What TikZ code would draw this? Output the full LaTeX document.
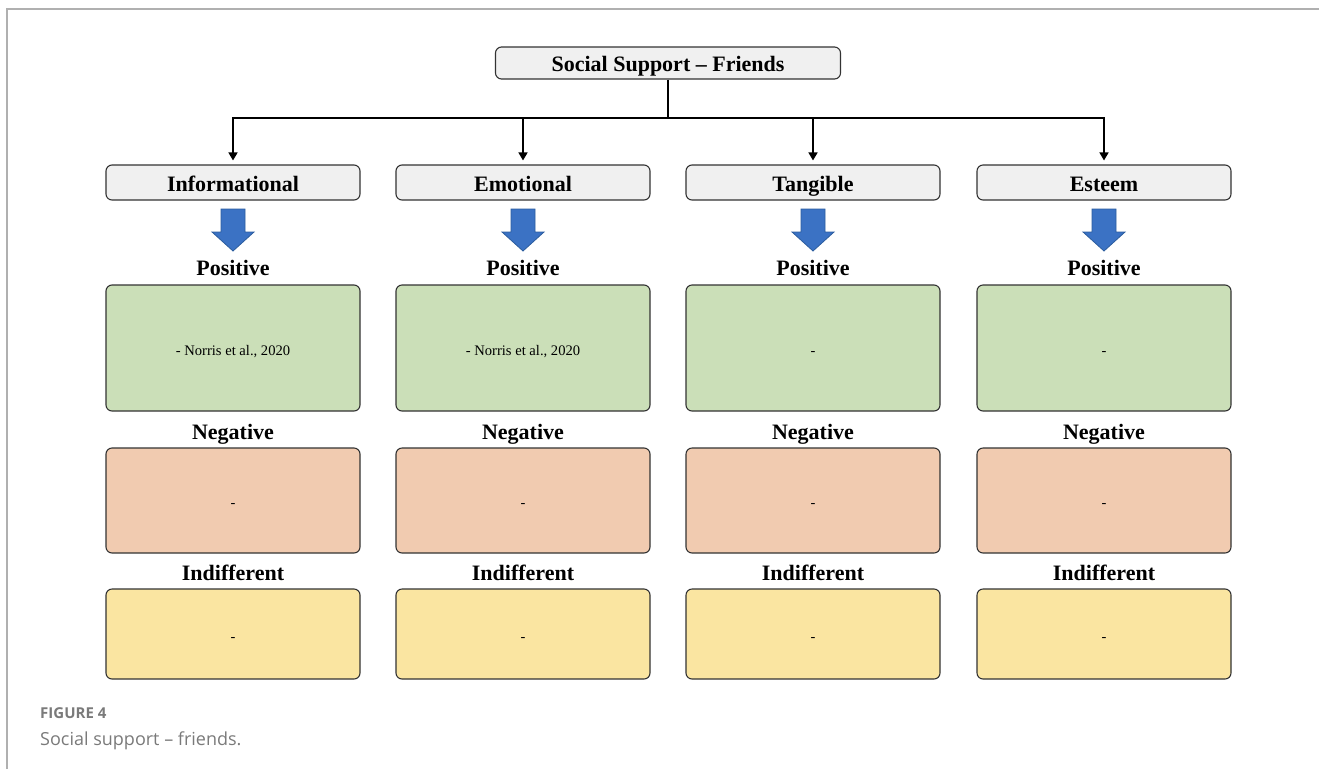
\documentclass[tikz,border=0pt]{standalone}
\usepackage{fontspec}
\setmainfont{Liberation Serif}
\newfontfamily\capfont{Open Sans}
\usetikzlibrary{arrows.meta}
\definecolor{linec}{HTML}{333333}
\definecolor{framec}{HTML}{B0B0B0}
\definecolor{grayf}{HTML}{F0F0F0}
\definecolor{greenf}{HTML}{CBDFB8}
\definecolor{orangef}{HTML}{F1CBB0}
\definecolor{yellowf}{HTML}{FAE5A1}
\definecolor{bluef}{HTML}{3B72C4}
\definecolor{blued}{HTML}{2B5C9E}
\definecolor{capc}{HTML}{6A6A6A}
\definecolor{capb}{HTML}{7A7A7A}
\begin{document}
\begin{tikzpicture}[x=1pt,y=-1pt,
  box/.style={draw=linec, line width=1.1pt, rounded corners=6pt, inner sep=0pt, minimum width=254pt, align=center},
  headbox/.style={box, fill=grayf, font=\fontsize{22}{24}\selectfont\bfseries, text height=20pt, text depth=3pt},
  smalltext/.style={font=\fontsize{14.6}{17}\selectfont, text height=17pt, text depth=3pt},
  posbox/.style={box, smalltext, fill=greenf, minimum height=126pt},
  negbox/.style={box, smalltext, fill=orangef, minimum height=105pt},
  indbox/.style={box, smalltext, fill=yellowf, minimum height=90pt},
  lab/.style={font=\fontsize{22}{24}\selectfont\bfseries, inner sep=0pt, text height=20pt, text depth=3pt},
  conn/.style={draw=black, line width=1.5pt, -{Triangle[length=8pt,width=9pt]}, shorten >=4pt},
  blockarrow/.style={fill=bluef, draw=blued, line width=0.8pt, line join=miter}
]
\useasboundingbox (0,0) rectangle (1319,769);
\draw[framec, line width=2pt] (7,769) -- (7,9) -- (1319,9);

\node[headbox, minimum width=345pt, minimum height=32pt] (top) at (668,63) {Social Support – Friends};
\coordinate (j) at (668,118);
\draw[line width=1.6pt] (top.south) -- (j);

\foreach \i/\x/\t/\p in {1/233/Informational/{- Norris et al., 2020},
                         2/523/Emotional/{- Norris et al., 2020},
                         3/813/Tangible/{-},
                         4/1104/Esteem/{-}} {
  \node[headbox, minimum height=35pt] (c\i) at (\x,182.5) {\t};
  \draw[conn] (j) -| (c\i.north);
  \draw[blockarrow] (\x-12,209) -- (\x+12,209) -- (\x+12,232) -- (\x+21,232) -- (\x,251) -- (\x-21,232) -- (\x-12,232) -- cycle;
  \node[lab] (pl\i) at (\x,266.5) {Positive};
  \node[posbox] (pos\i) at (\x,348) {\p};
  \node[lab] (nl\i) at (\x,430.5) {Negative};
  \node[negbox] (neg\i) at (\x,500.5) {-};
  \node[lab] (il\i) at (\x,571.5) {Indifferent};
  \node[indbox] (ind\i) at (\x,634) {-};
}

\node[anchor=west, inner sep=0pt, text=capb, font=\capfont\fontsize{15}{17}\selectfont\bfseries] (fig) at (40,713) {FIGURE 4};
\node[anchor=west, inner sep=0pt, text=capb, font=\capfont\fontsize{18}{20}\selectfont] (cap) at (40,741) {Social support – friends.};
\end{tikzpicture}
\end{document}
